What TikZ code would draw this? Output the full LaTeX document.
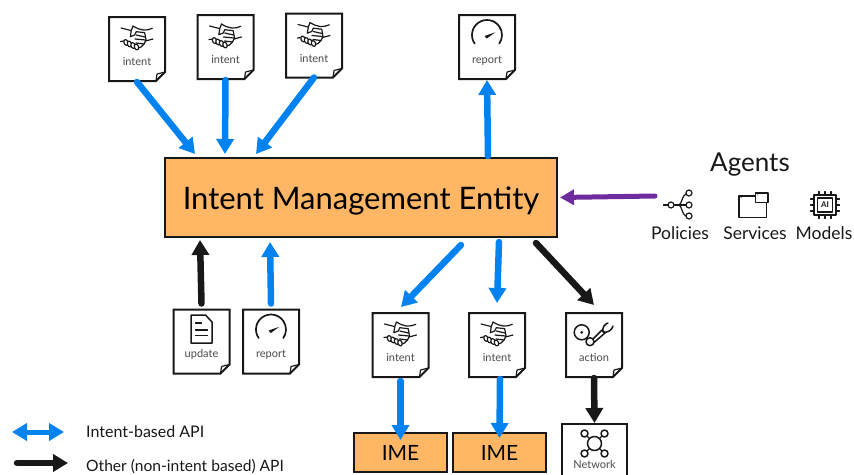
\documentclass[tikz,border=0pt]{standalone}
\usepackage{fontspec}
\setmainfont{Lato}
\usepackage{tikz}
\usetikzlibrary{arrows.meta,shapes.misc}

\definecolor{imeorange}{HTML}{FFB766}
\definecolor{apiblue}{HTML}{0082F0}
\definecolor{apiblack}{HTML}{181818}
\definecolor{agentpurple}{HTML}{6E2B9E}
\definecolor{doctext}{HTML}{4A4A4A}

\tikzset{
	docbox/.style={shape=chamfered rectangle,chamfered rectangle corners=south east,
		chamfered rectangle xsep=4.5,chamfered rectangle ysep=4.5,draw=apiblack,line width=2,fill=white,
		inner sep=0,minimum width=56,minimum height=64,align=center,text=doctext,
		font=\fontsize{11}{13}\selectfont,
		execute at begin node={\rule{0pt}{34pt}\\},
		append after command={
			([shift={(19,32)}]\tikzlastnode.center) edge[docfold] ([shift={(20,25)}]\tikzlastnode.center)
			([shift={(20,25)}]\tikzlastnode.center) edge[docfold] ([shift={(28,23)}]\tikzlastnode.center)}},
	docfold/.style={draw=apiblack,line width=1.2},
	orangebox/.style={shape=rectangle,draw=apiblack,line width=2,fill=imeorange,inner sep=0},
	intentapi/.style={draw=apiblue,line width=6.5,line cap=round,-{Triangle[width=17,length=15]}},
	otherapi/.style={draw=apiblack,line width=6.5,line cap=round,-{Triangle[width=17,length=15]}},
	agentapi/.style={draw=agentpurple,line width=5,line cap=round,-{Triangle[width=15,length=14]}},
	plaintext/.style={shape=rectangle,inner sep=0,text=apiblack},
	icon/.style={draw=apiblack,line width=1.2,line cap=round,line join=round},
	handshake/.pic={
		\draw[icon] (-16,-10) -- (-6,-7.5);
		\draw[icon] (15.3,-9.7) .. controls (9,-7) and (4,-7) .. (-4,-12) -- (-5.7,-7.5) -- (-6.7,-1.3) -- (-2.3,-3) -- (-0.7,-6.3) -- (7.7,-5.3) -- (9,2) -- (7,6) -- (4,9) -- (0,10.5);
		\draw[icon] (-0.7,-3) -- (8,-1) (-2,1) -- (8.5,2) (-1,5) -- (7,6);
		\draw[icon] (8.5,3) -- (16,1);
		\draw[icon] (-16.5,3.5) -- (-12.5,3);
		\foreach \fx/\fy in {-11/4.5,-7.5/6,-4/7.5,-0.5/9}
			\draw[icon,fill=white,rotate around={20:(\fx,\fy)}] (\fx,\fy) ellipse [x radius=2.1,y radius=3];
	},
	gauge/.pic={
		\draw[icon,line width=1.7] (-12.3,8.6) arc [start angle=215,end angle=-35,radius=15,y radius=-15];
		\fill[apiblack] (-2.4,1) -- (8.3,-2.7) -- (-0.4,3.6) -- cycle;
	},
	page/.pic={
		\draw[icon,line width=1.5] (-10.5,-14) -- (4,-14) -- (10.5,-7) -- (10.5,14) -- (-10.5,14) -- cycle;
		\draw[icon] (-6,-6) -- (0,-6) (-6,1) -- (6,1) (-6,6.5) -- (6,6.5);
	},
	robotarm/.pic={
		\draw[icon,line width=1.5] (-12.3,-12.7) circle (7.5);
		\fill[apiblack] (-12.3,-12.7) circle (1.5);
		\draw[icon,line width=1.5] (-4,-3.3) circle (4);
		\draw[icon,line width=1.5] (-1,-6) -- (8,-15) -- (11,-12) -- (0,-2.5);
		\draw[icon,line width=1.5] (9,-13) .. controls (8,-18) and (11,-21) .. (14,-22) (9,-13) .. controls (14,-12) and (18,-15) .. (19,-19);
	},
	network/.pic={
		\draw[icon,line width=1.5] (0,0) circle (7);
		\foreach \nx/\ny in {-10/-10,10/-10,-10/10,10/10}{
			\draw[icon,line width=1.5] (\nx,\ny) circle (3.5);
			\draw[icon] (0.5*\nx,0.5*\ny) -- (0.75*\nx,0.75*\ny);
		}
	},
	policytree/.pic={
		\draw[icon] (0,0) circle (3);
		\draw[icon] (-7.5,0) -- (-3,0) (3,0) -- (15,0);
		\draw[icon] (8,0) .. controls (11,-1) and (11,-10) .. (15,-11);
		\draw[icon] (8,0) .. controls (11,1) and (11,10) .. (15,11);
		\foreach \py in {-12,0,11}
			\draw[icon,fill=white] (18,\py) circle (3);
	},
	windows/.pic={
		\draw[icon,line width=1.4] (-14.5,-10) rectangle (13,11.5);
		\draw[icon,fill=white,line width=1.4] (2,-13) rectangle (14.5,-3.5);
		\fill[apiblack] (-12.5,-8.5) circle (0.5) (4,-11) circle (0.5);
	},
	chip/.pic={
		\draw[icon,line width=1.4] (-11,-10) rectangle (11,10);
		\draw[icon,line width=1.2] (-7.5,-7) rectangle (7.5,7);
		\foreach \ps in {-6,0,6}{
			\draw[icon] (\ps,-13.5) -- (\ps,-10) (\ps,10) -- (\ps,13.5);
			\draw[icon] (-14.5,\ps) -- (-11,\ps) (11,\ps) -- (14.5,\ps);
		}
		\node[plaintext,font=\fontsize{8}{8}\selectfont\bfseries] (chipname) at (0,0) {AI};
	}
}

\begin{document}
\begin{tikzpicture}[x=1pt,y=-1pt]
	\useasboundingbox (0,0) rectangle (854,474);

	\node[orangebox,minimum width=392,minimum height=79,font=\fontsize{31}{32}\selectfont] (ime) at (361,197.5) {\raisebox{-11.5pt}[0pt][0pt]{Intent Management Entity}};

	\node[docbox] (intentA) at (137,49) {intent};
	\node[docbox] (intentB) at (225.5,47) {intent};
	\node[docbox] (intentC) at (314,45.5) {intent};
	\node[docbox] (reportA) at (487,47) {report};
	\node[docbox] (update) at (201.5,341.5) {update};
	\node[docbox] (reportB) at (271,341.5) {report};
	\node[docbox] (intentD) at (400.5,345) {intent};
	\node[docbox] (intentE) at (497,345) {intent};
	\node[docbox] (action) at (594,345) {action};

	\pic at ([shift={(0,-11)}]intentA.center) {handshake};
	\pic at ([shift={(0,-11)}]intentB.center) {handshake};
	\pic at ([shift={(0,-11)}]intentC.center) {handshake};
	\pic at ([shift={(0,-11)}]intentD.center) {handshake};
	\pic at ([shift={(0,-11)}]intentE.center) {handshake};
	\pic at ([shift={(0,-12)}]reportA.center) {gauge};
	\pic at ([shift={(0,-12)}]reportB.center) {gauge};
	\pic at ([shift={(0,-12.5)}]update.center) {page};
	\pic at (action.center) {robotarm};

	\node[orangebox,minimum width=93,minimum height=39,font=\fontsize{21}{21}\selectfont] (imeA) at (400.5,452.5) {IME};
	\node[orangebox,minimum width=93,minimum height=39,font=\fontsize{21}{21}\selectfont] (imeB) at (499.5,452.5) {IME};
	\node[shape=rectangle,draw=apiblack,line width=2,fill=white,inner sep=0,minimum width=65,minimum height=54] (net) at (594.5,451) {};
	\node[plaintext,text=doctext,font=\fontsize{11}{11}\selectfont] (netname) at (594.5,464.5) {Network};
	\pic at (594.5,443.5) {network};

	\draw[intentapi] (intentA.south) -- ([shift={(31,-3)}]ime.north west);
	\draw[intentapi] (intentB.south) -- ([shift={(61,-3)}]ime.north west);
	\draw[intentapi] ([shift={(0,-1)}]intentC.south) -- ([shift={(92,-3)}]ime.north west);
	\draw[intentapi] ([shift={(127,-1)}]ime.north) -- (reportA.south);
	\draw[otherapi] ([shift={(0,-5)}]update.north) -- ([shift={(36,2)}]ime.south west);
	\draw[intentapi] ([shift={(0,-5)}]reportB.north) -- ([shift={(106,4)}]ime.south west);
	\draw[intentapi] ([shift={(100,7)}]ime.south) -- ([shift={(0.5,-5)}]intentD.north);
	\draw[intentapi] ([shift={(138,4)}]ime.south) -- ([shift={(0,-9)}]intentE.north);
	\draw[otherapi] ([shift={(175,5)}]ime.south) -- ([shift={(0,-7)}]action.north);
	\draw[intentapi] ([shift={(0,3)}]intentD.south) -- ([shift={(0,8)}]imeA.north);
	\draw[intentapi] ([shift={(3,1)}]intentE.south) -- ([shift={(0,6)}]imeB.north);
	\draw[otherapi] (action.south) -- (net.north);

	\node[plaintext,font=\fontsize{26}{26}\selectfont] (agents) at (750,165) {Agents};
	\node[plaintext,font=\fontsize{17.5}{17.5}\selectfont] (policies) at (680,233) {Policies};
	\node[plaintext,font=\fontsize{17.5}{17.5}\selectfont] (services) at (755,233) {Services};
	\node[plaintext,font=\fontsize{17.5}{17.5}\selectfont] (models) at (824,233) {Models};
	\pic at (671,205) {policytree};
	\pic at (753.5,206) {windows};
	\pic at (825,205) {chip};
	\coordinate (agentout) at (655,196);
	\draw[agentapi] (agentout) -- ([shift={(2,0)}]ime.east);

	\coordinate (legendAa) at (12,432);
	\coordinate (legendAb) at (64,432);
	\coordinate (legendBa) at (17,463);
	\coordinate (legendBb) at (68,463);
	\draw[intentapi,{Triangle[width=17,length=15]}-{Triangle[width=17,length=15]},line width=5] (legendAa) -- (legendAb);
	\draw[otherapi] (legendBa) -- (legendBb);
	\node[plaintext,anchor=west,font=\fontsize{16}{16}\selectfont] (legendA) at (86,432) {Intent-based API};
	\node[plaintext,anchor=west,font=\fontsize{15.6}{16}\selectfont] (legendB) at (86,467) {Other (non-intent based) API};
\end{tikzpicture}
\end{document}
